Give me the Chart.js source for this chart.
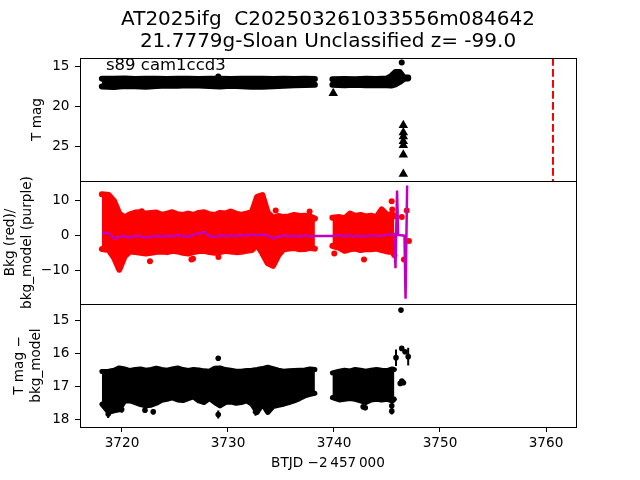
<!DOCTYPE html>
<html><head><meta charset="utf-8">
<script src="https://cdn.jsdelivr.net/npm/chart.js@4.4.1/dist/chart.umd.min.js"></script>
<style>html,body{margin:0;padding:0;background:#fff;} #wrap{width:640px;height:480px;}</style>
</head><body><div id="wrap"><canvas id="c" width="640" height="480"></canvas></div>
<script>
// ---------- texts ----------
const titleLines = ['AT2025ifg  C202503261033556m084642', '21.7779g-Sloan Unclassified z= -99.0'];
const panelNote = 's89 cam1ccd3';
const xTitle = 'BTJD \u22122\u2009457\u2009000';
const yTitle1 = ['T mag'];
const yTitle2 = ['Bkg (red)/', 'bkg_model (purple)'];
const yTitle3 = ['T mag \u2212', 'bkg_model'];

// ---------- ticks ----------
const xTicks = [3720, 3730, 3740, 3750, 3760];
const y1Ticks = [15, 20, 25];
const y2Ticks = [-10, 0, 10];
const y3Ticks = [15, 16, 17, 18];

// ---------- time grids (BTJD - 2457000) ----------
const t1 = [3718.1, 3718.75, 3719.25, 3719.75, 3720.25, 3720.75, 3721.25, 3721.75, 3722.25, 3722.75, 3723.25, 3723.75, 3724.25, 3724.75, 3725.25, 3725.75, 3726.25, 3726.75, 3727.25, 3727.75, 3728.25, 3728.75, 3729.25, 3729.75, 3730.25, 3730.75, 3731.25, 3731.75, 3732.25, 3732.75, 3733.25, 3733.75, 3734.25, 3734.75, 3735.25, 3735.75, 3736.25, 3736.75, 3737.25, 3737.75, 3738.2];
const t2 = [3739.85, 3740.5, 3741.0, 3741.5, 3742.0, 3742.5, 3743.0, 3743.5, 3744.0, 3744.5, 3745.0, 3745.5, 3745.7];

// ---------- panel 1: T mag ----------
const p1T1 = [3718.1, 3719.25, 3720.25, 3721.25, 3722.25, 3723.25, 3724.25, 3725.25, 3726.25, 3727.25, 3728.25, 3729.25, 3730.25, 3731.25, 3732.25, 3733.25, 3734.25, 3735.25, 3736.25, 3737.25, 3738.2];
const p1Up1 = [16.58, 16.60, 16.55, 16.62, 16.60, 16.58, 16.62, 16.60, 16.58, 16.62, 16.60, 16.58, 16.62, 16.60, 16.58, 16.60, 16.62, 16.60, 16.62, 16.60, 16.62];
const p1Lo1 = [17.55, 17.62, 17.50, 17.52, 17.58, 17.50, 17.45, 17.48, 17.42, 17.45, 17.50, 17.55, 17.48, 17.52, 17.60, 17.58, 17.52, 17.48, 17.42, 17.38, 17.35];
const p1T2 = [3739.85, 3741.0, 3742.0, 3743.0, 3744.0, 3745.0, 3745.4, 3745.8, 3746.2, 3746.6, 3747.0];
const p1Up2 = [16.65, 16.62, 16.65, 16.60, 16.62, 16.55, 16.25, 15.75, 15.75, 16.45, 16.45];
const p1Lo2 = [17.35, 17.40, 17.35, 17.42, 17.38, 17.40, 17.45, 17.30, 17.00, 16.60, 16.55];
const p1PtX = [3729.08, 3746.39];
const p1PtY = [16.3, 14.55];
const limX = [3739.93, 3746.54, 3746.54, 3746.54, 3746.54, 3746.54, 3746.54, 3746.54];
const limY = [18.4, 22.4, 23.3, 23.8, 24.4, 24.9, 26.1, 28.5];
const redLineX = 3760.66;

// ---------- panel 2: background ----------
const p2Up1 = [11.8, 11.6, 9.9, 6.3, 5.2, 6.1, 6.6, 6.7, 6.3, 6.5, 6.6, 5.9, 6.3, 6.7, 6.1, 5.9, 6.3, 5.9, 6.5, 6.7, 6.1, 5.9, 6.5, 6.3, 6.9, 6.3, 5.9, 6.3, 6.7, 11.1, 11.6, 6.6, 5.1, 5.6, 5.3, 5.5, 5.9, 5.6, 5.7, 5.5, 4.9];
const p2Lo1 = [-3.8, -4.1, -6.3, -9.7, -5.9, -4.5, -4.7, -4.9, -5.1, -4.9, -4.6, -4.5, -4.7, -4.3, -4.5, -4.9, -5.1, -4.7, -4.4, -4.3, -4.7, -4.9, -4.7, -4.3, -4.5, -4.7, -4.6, -4.3, -4.1, -2.6, -5.1, -7.9, -8.6, -5.6, -3.9, -3.7, -3.5, -3.9, -3.8, -3.5, -3.7];
const p2Up2 = [5.1, 5.3, 4.9, 6.3, 5.6, 5.9, 5.5, 5.7, 5.3, 7.5, 5.9, 6.1, 5.6];
const p2Lo2 = [-2.9, -3.5, -4.3, -3.9, -3.7, -4.1, -3.8, -3.9, -3.7, -4.1, -4.5, -4.7, -5.6];
const p2PtX = [3721.86, 3722.64, 3726.55, 3726.7, 3729.1, 3734.5, 3737.7, 3740.03, 3742.83, 3745.44, 3745.5, 3746.4, 3746.86, 3747.07, 3746.6];
const p2PtY = [7.0, -7.3, -6.8, -6.6, -6.1, 7.2, 6.9, -5.1, -6.8, 9.8, 7.5, 5.3, 7.2, -1.5, -6.8];
const bkgV1 = [0.8, 0.7, -0.8, -0.3, -0.2, -0.5, -0.1, -0.2, -0.5, -0.3, -0.1, -0.3, 0.0, -0.2, 0.2, -0.1, -0.3, 0.3, 0.6, 1.0, -0.1, -0.4, 0.1, -0.2, 0.1, -0.1, 0.2, 0.0, 0.3, 0.1, 0.3, 0.0, -0.8, -0.3, 0.1, -0.2, 0.0, -0.3, 0.1, -0.2, -0.1];
const bkgV2 = [-0.1, 0.2, -0.2, 0.1, -0.3, 0.0, -0.2, 0.1, -0.1, 0.0, 0.2, 0.4, 0.5];
const bkgSpikeT = [3745.8, 3745.95, 3746.05, 3746.65, 3746.75, 3746.9];
const bkgSpikeV = [-9.3, 12.9, 0.2, 0.0, -18.0, 14.3];

// ---------- panel 3: T mag - bkg_model ----------
const p3Up1 = [16.56, 16.55, 16.52, 16.45, 16.48, 16.53, 16.50, 16.48, 16.52, 16.50, 16.46, 16.50, 16.52, 16.48, 16.45, 16.50, 16.53, 16.50, 16.51, 16.54, 16.55, 16.46, 16.45, 16.50, 16.52, 16.55, 16.55, 16.53, 16.52, 16.50, 16.47, 16.43, 16.47, 16.52, 16.55, 16.54, 16.53, 16.52, 16.51, 16.48, 16.50];
const p3Lo1 = [17.55, 17.80, 17.75, 17.72, 17.45, 17.45, 17.50, 17.56, 17.60, 17.58, 17.52, 17.43, 17.40, 17.36, 17.42, 17.44, 17.38, 17.33, 17.45, 17.50, 17.38, 17.50, 17.60, 17.50, 17.48, 17.52, 17.50, 17.45, 17.55, 17.80, 17.55, 17.80, 17.62, 17.58, 17.55, 17.50, 17.45, 17.38, 17.30, 17.25, 17.22];
const p3Up2 = [16.60, 16.55, 16.52, 16.54, 16.50, 16.52, 16.55, 16.52, 16.50, 16.52, 16.53, 16.48, 16.50];
const p3Lo2 = [17.35, 17.42, 17.40, 17.38, 17.40, 17.45, 17.50, 17.42, 17.40, 17.42, 17.40, 17.45, 17.40];
const p3PtX = [3718.7, 3719.97, 3722.17, 3722.95, 3729.08, 3732.6, 3733.65, 3742.75, 3742.95, 3745.45, 3745.45, 3729.08, 3745.85, 3746.32, 3746.39, 3746.7, 3747.0, 3746.25, 3746.4, 3746.55];
const p3PtY = [17.85, 17.71, 17.73, 17.78, 17.86, 17.78, 17.72, 17.63, 17.66, 17.6, 17.76, 16.16, 16.14, 14.7, 15.86, 15.96, 16.11, 16.92, 16.85, 16.9];
const p3PtErr = [0.12, 0.1, 0.06, 0.08, 0.12, 0.12, 0.1, 0.05, 0.05, 0.1, 0.1, 0.03, 0.25, 0.02, 0.05, 0.05, 0.27, 0.03, 0.03, 0.03];

// ---------- axis ranges ----------
const xRange = [3716.04, 3762.83];
const y1Range = [14.0, 29.375];
const y2Range = [-19.5, 15.6];
const y3Range = [14.515, 18.24];

// ---------- helpers ----------
const FAM = '"DejaVu Sans", "Liberation Sans", sans-serif';
const pts = (xs, ys) => xs.map((x, i) => ({x, y: ys[i]}));
const errSegs = (xs, ys, es) => {
  const out = [];
  xs.forEach((x, i) => { out.push({x, y: ys[i] - es[i]}, {x, y: ys[i] + es[i]}, {x, y: null}); });
  return out;
};
const band = (xs, up, lo, axis, color, w) => [
  {type: 'line', data: pts(xs, up), yAxisID: axis, borderColor: color, borderWidth: w, pointRadius: 0,
   borderCapStyle: 'round', borderJoinStyle: 'round', fill: false, tension: 0, order: 5},
  {type: 'line', data: pts(xs, lo), yAxisID: axis, borderColor: color, borderWidth: w, pointRadius: 0,
   borderCapStyle: 'round', borderJoinStyle: 'round', fill: '-1', backgroundColor: color, tension: 0, order: 5}
];
const dots = (xs, ys, axis, color, r, style) => ({
  type: 'scatter', data: pts(xs, ys), yAxisID: axis, showLine: false,
  pointRadius: r, pointBackgroundColor: color, pointBorderColor: color, pointBorderWidth: 0,
  pointStyle: style || 'circle', order: 2
});
const minus = v => String(v).replace('-', '\u2212');

const datasets = [];
// panel 1
datasets.push(...band(p1T1, p1Up1, p1Lo1, 'y1', '#000000', 6));
datasets.push(...band(p1T2, p1Up2, p1Lo2, 'y1', '#000000', 6));
datasets.push(dots(p1PtX, p1PtY, 'y1', '#000000', 3));
datasets.push(dots(limX, limY, 'y1', '#000000', 5.5, 'triangle'));
datasets.push({type: 'line', data: [{x: redLineX, y: y1Range[0]}, {x: redLineX, y: y1Range[1]}], yAxisID: 'y1',
  borderColor: '#ff0000', borderWidth: 2, borderDash: [7.7, 3.3], pointRadius: 0, fill: false, order: 1});
// panel 2
datasets.push(...band(t1, p2Up1, p2Lo1, 'y2', '#ff0000', 6));
datasets.push(...band(t2, p2Up2, p2Lo2, 'y2', '#ff0000', 6));
datasets.push(dots(p2PtX, p2PtY, 'y2', '#ff0000', 3));
datasets.push({type: 'line', yAxisID: 'y2',
  data: pts(t1.concat(t2, bkgSpikeT), bkgV1.concat(bkgV2, bkgSpikeV)),
  borderColor: '#bf00bf', borderWidth: 2.5, pointRadius: 0, fill: false, tension: 0, order: 0});
// panel 3
datasets.push(...band(t1, p3Up1, p3Lo1, 'y3', '#000000', 5));
datasets.push(...band(t2, p3Up2, p3Lo2, 'y3', '#000000', 5));
datasets.push({type: 'line', yAxisID: 'y3', data: errSegs(p3PtX, p3PtY, p3PtErr), spanGaps: false,
  borderColor: '#000000', borderWidth: 2, pointRadius: 0, fill: false, order: 3});
datasets.push(dots(p3PtX, p3PtY, 'y3', '#000000', 2.8));

const yScale = (range, reverse, ticks, title, padTop) => ({
  type: 'linear', position: 'left', stack: 'panels', stackWeight: 1,
  min: range[0], max: range[1], reverse,
  afterFit: s => { s.width = 80; },
  afterBuildTicks: s => { s.ticks = ticks.map(v => ({value: v})); },
  grid: {display: true, drawOnChartArea: false, drawTicks: true, tickLength: 5, color: '#000', lineWidth: 1},
  border: {display: false},
  ticks: {color: '#000', font: {family: FAM, size: 13.6}, padding: 5.5, callback: v => minus(v)},
  title: {display: true, text: title, color: '#000', font: {family: FAM, size: 13.6, lineHeight: 1.25},
          padding: {top: padTop, bottom: 0}}
});

const framePlugin = {
  id: 'frame',
  afterDatasetsDraw(chart) {
    const ctx = chart.ctx, a = chart.chartArea;
    ctx.save();
    ctx.strokeStyle = '#000';
    ctx.lineWidth = 1;
    ['y1', 'y2', 'y3'].forEach(id => {
      const s = chart.scales[id];
      ctx.strokeRect(Math.round(a.left) + 0.5, Math.round(s.top) + 0.5,
                     Math.round(a.right - a.left), Math.round(s.bottom - s.top));
    });
    const s1 = chart.scales.y1;
    ctx.fillStyle = '#000';
    ctx.font = '16.5px ' + FAM;
    ctx.textBaseline = 'alphabetic';
    ctx.textAlign = 'left';
    ctx.fillText(panelNote, a.left + 26, s1.top + 12);
    ctx.restore();
  }
};

new Chart(document.getElementById('c'), {
  data: {datasets},
  options: {
    responsive: false, animation: false, devicePixelRatio: 1,
    layout: {padding: {left: 0, right: 64, top: 0, bottom: 0}},
    plugins: {
      legend: {display: false}, tooltip: {enabled: false},
      title: {display: true, fullSize: false, text: titleLines, color: '#000',
              font: {family: FAM, size: 20, weight: 'normal', lineHeight: 1.1},
              padding: {top: 9, bottom: 5}}
    },
    scales: {
      x: {type: 'linear', position: 'bottom', min: xRange[0], max: xRange[1],
          afterFit: s => { s.height = 53; },
          afterBuildTicks: s => { s.ticks = xTicks.map(v => ({value: v})); },
          grid: {display: true, drawOnChartArea: false, drawTicks: true, tickLength: 5, color: '#000', lineWidth: 1},
          border: {display: false},
          ticks: {color: '#000', font: {family: FAM, size: 13.6}, padding: 3, maxRotation: 0, autoSkip: false,
                  callback: v => minus(v)},
          title: {display: true, text: xTitle, color: '#000', font: {family: FAM, size: 13.6, lineHeight: 1.25},
                  padding: {top: 0, bottom: 8.5}}},
      // stacked left axes are laid out last-defined on top
      y3: yScale(y3Range, true, y3Ticks, yTitle3, 11),
      y2: yScale(y2Range, false, y2Ticks, yTitle2, 1.5),
      y1: yScale(y1Range, true, y1Ticks, yTitle1, 28.5)
    }
  },
  plugins: [framePlugin]
});
</script>
</body></html>
